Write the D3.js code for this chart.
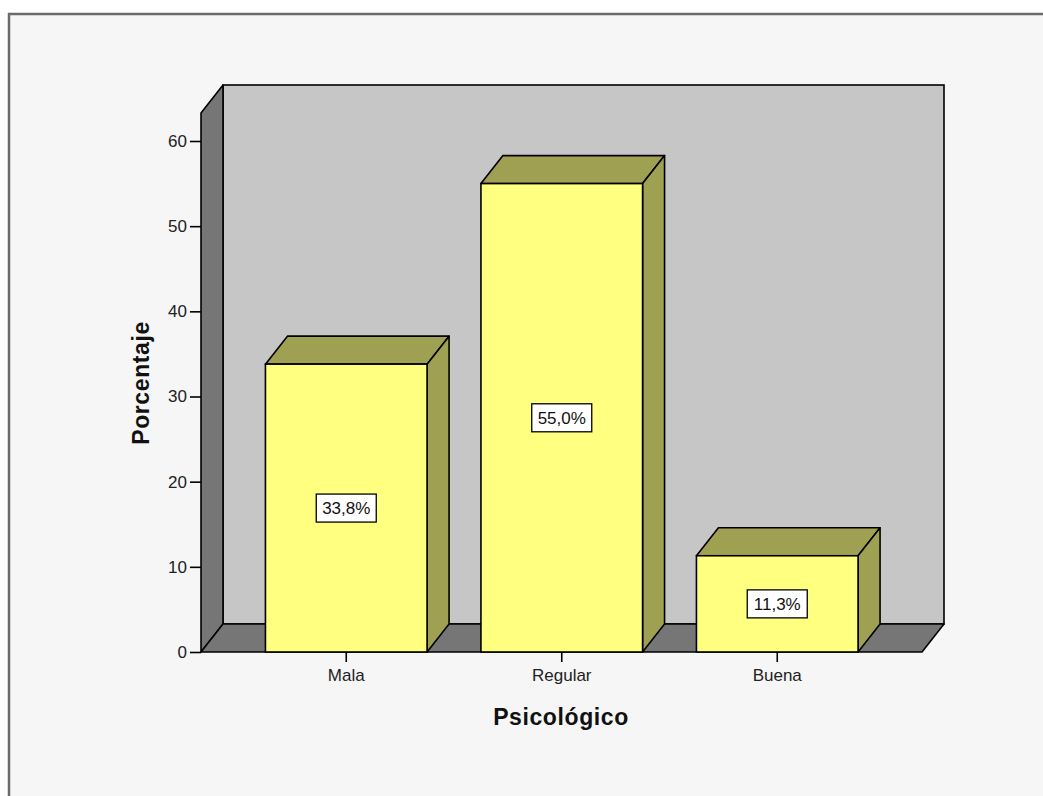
<!DOCTYPE html>
<html>
<head>
<meta charset="utf-8">
<script src="https://cdn.jsdelivr.net/npm/d3@7/dist/d3.min.js"></script>
<style>
  html, body { margin: 0; padding: 0; background: #ffffff; }
  svg { display: block; font-family: "Liberation Sans", Arial, sans-serif; }
</style>
</head>
<body>
<svg id="chart" width="1043" height="796"></svg>
<script>
// Psicológico — percentage per category
const categories = ["Mala", "Regular", "Buena"];
const percentages = [33.8, 55.0, 11.3];
const valueLabels = ["33,8%", "55,0%", "11,3%"];
const yTicks = [0, 10, 20, 30, 40, 50, 60];

const svg = d3.select("#chart");

// Panel
svg.append("rect")
  .attr("x", 9).attr("y", 14)
  .attr("width", 1100).attr("height", 900)
  .attr("fill", "#f6f6f6")
  .attr("stroke", "#6b6b6b")
  .attr("stroke-width", 2.5);

// Scales (front plane)
const y = d3.scaleLinear().domain([0, 60]).range([652, 141]);
const x = d3.scaleBand().domain(categories)
  .range([238.5, 885]).paddingInner(0.25).paddingOuter(0.125);

const plotLeft = 201, plotRight = 922, plotTop = 113;
const plotBottom = y(0);
const dx = 22, dy = -28;   // depth offset of the 3D box

const line = d3.line();
const wallColor = "#c6c6c6";
const sideColor = "#767676";
const frontColor = "#ffff80";
const shadeColor = "#a0a052";
const sw = 1.6;

// Back wall
svg.append("rect")
  .attr("x", plotLeft + dx).attr("y", plotTop + dy)
  .attr("width", plotRight - plotLeft).attr("height", plotBottom - plotTop)
  .attr("fill", wallColor).attr("stroke", "#000").attr("stroke-width", sw);

// Left wall
svg.append("path")
  .attr("d", line([[plotLeft, plotTop], [plotLeft + dx, plotTop + dy], [plotLeft + dx, plotBottom + dy], [plotLeft, plotBottom]]) + "Z")
  .attr("fill", sideColor).attr("stroke", "#000").attr("stroke-width", sw)
  .attr("stroke-linejoin", "round");

// Floor
svg.append("path")
  .attr("d", line([[plotLeft, plotBottom], [plotLeft + dx, plotBottom + dy], [plotRight + dx, plotBottom + dy], [plotRight, plotBottom]]) + "Z")
  .attr("fill", sideColor).attr("stroke", "#000").attr("stroke-width", sw)
  .attr("stroke-linejoin", "round");

// Bars
const data = categories.map((c, i) => ({ c, v: percentages[i], label: valueLabels[i] }));
const bars = svg.append("g").selectAll("g").data(data).join("g");

bars.each(function (d) {
  const g = d3.select(this);
  const x0 = x(d.c), x1 = x(d.c) + x.bandwidth();
  const yt = y(d.v), yb = y(0);
  // top face
  g.append("path")
    .attr("d", line([[x0, yt], [x0 + dx, yt + dy], [x1 + dx, yt + dy], [x1, yt]]) + "Z")
    .attr("fill", shadeColor).attr("stroke", "#000").attr("stroke-width", sw)
    .attr("stroke-linejoin", "round");
  // right face
  g.append("path")
    .attr("d", line([[x1, yt], [x1 + dx, yt + dy], [x1 + dx, yb + dy], [x1, yb]]) + "Z")
    .attr("fill", shadeColor).attr("stroke", "#000").attr("stroke-width", sw)
    .attr("stroke-linejoin", "round");
  // front face
  g.append("rect")
    .attr("x", x0).attr("y", yt)
    .attr("width", x1 - x0).attr("height", yb - yt)
    .attr("fill", frontColor).attr("stroke", "#000").attr("stroke-width", sw);

  // value label in a white box
  const cx = (x0 + x1) / 2, cy = (yt + yb) / 2;
  g.append("rect")
    .attr("x", cx - 30).attr("y", cy - 14)
    .attr("width", 60).attr("height", 28)
    .attr("fill", "#ffffff").attr("stroke", "#000").attr("stroke-width", 1.3);
  g.append("text")
    .attr("x", cx).attr("y", cy)
    .attr("dy", "0.36em")
    .attr("text-anchor", "middle")
    .attr("font-size", 17)
    .attr("fill", "#111")
    .text(d.label);
});

// Y axis
const yAxis = svg.append("g")
  .attr("transform", `translate(${plotLeft},0)`)
  .call(d3.axisLeft(y).tickValues(yTicks).tickSize(11).tickPadding(3).tickSizeOuter(0));
yAxis.select(".domain").remove();
yAxis.selectAll(".tick line").attr("stroke", "#000").attr("stroke-width", 1.6);
yAxis.selectAll(".tick text").attr("font-size", 17).attr("fill", "#222")
  .attr("font-family", "Liberation Sans, Arial, sans-serif");

// X axis
const xAxis = svg.append("g")
  .attr("transform", `translate(0,${plotBottom})`)
  .call(d3.axisBottom(x).tickSize(10).tickPadding(7).tickSizeOuter(0));
xAxis.select(".domain").remove();
xAxis.selectAll(".tick line").attr("stroke", "#000").attr("stroke-width", 1.6);
xAxis.selectAll(".tick text").attr("font-size", 17).attr("fill", "#222")
  .attr("font-family", "Liberation Sans, Arial, sans-serif");

// Axis titles
svg.append("text")
  .attr("x", 561).attr("y", 725)
  .attr("text-anchor", "middle")
  .attr("font-size", 23).attr("font-weight", "bold")
  .attr("letter-spacing", 0.6)
  .attr("fill", "#111")
  .text("Psicológico");

svg.append("text")
  .attr("transform", "translate(149,383) rotate(-90)")
  .attr("text-anchor", "middle")
  .attr("font-size", 23).attr("font-weight", "bold")
  .attr("letter-spacing", 0.6)
  .attr("fill", "#111")
  .text("Porcentaje");
</script>
</body>
</html>
